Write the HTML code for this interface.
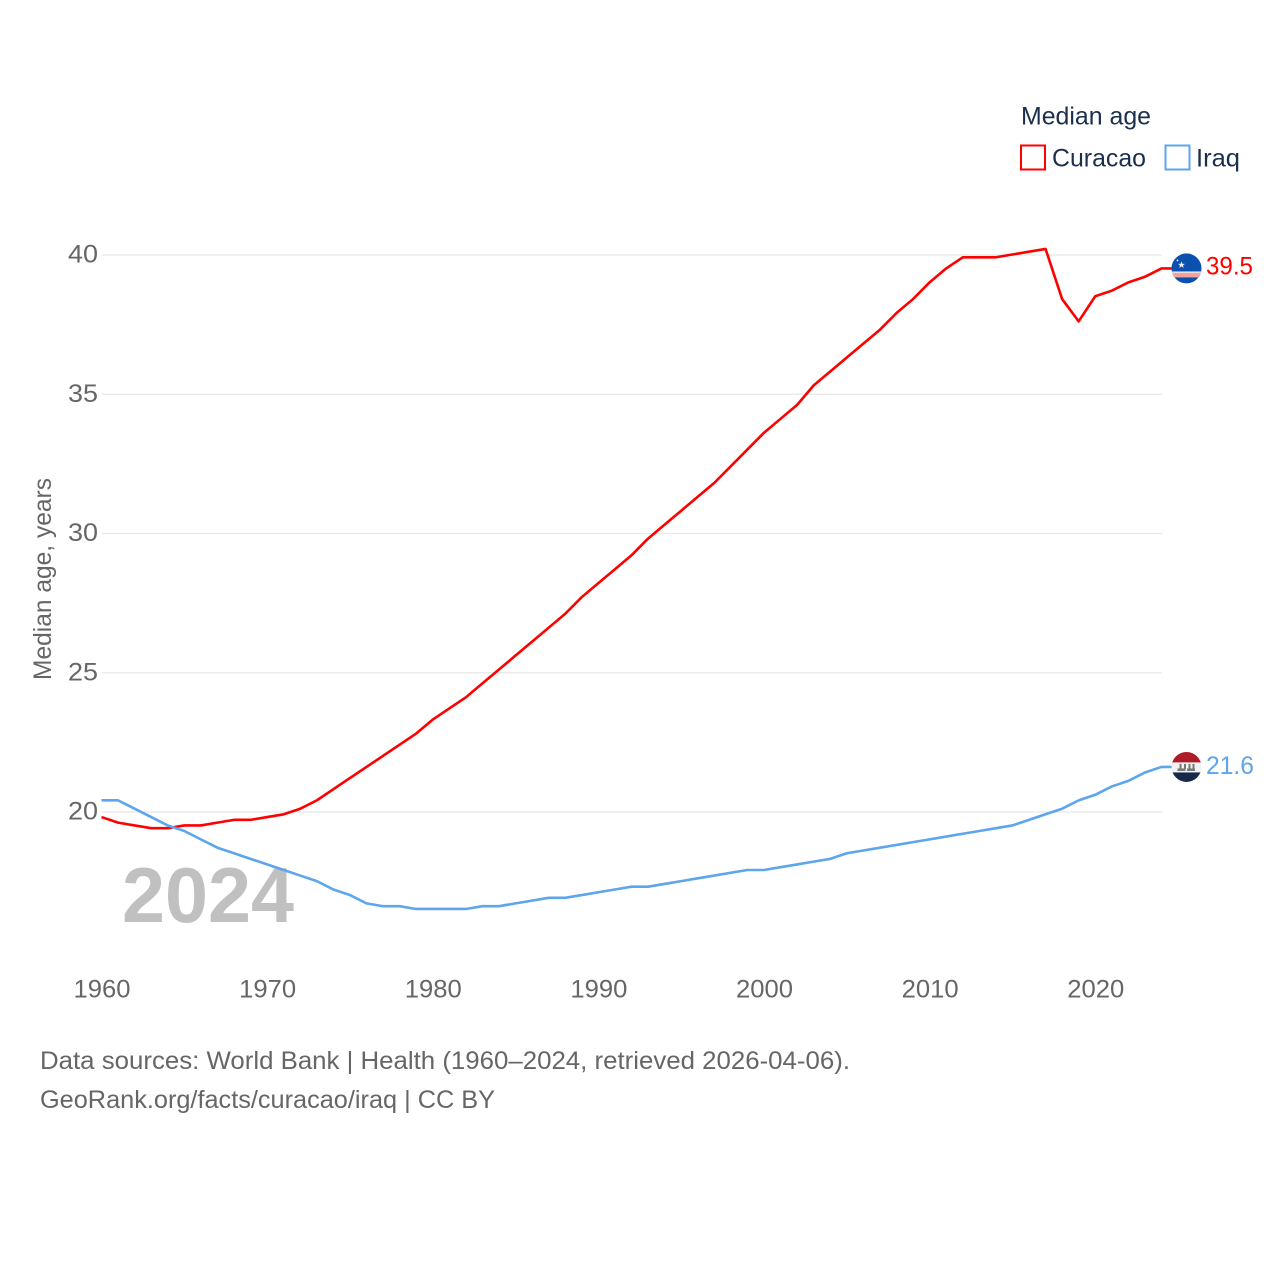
<!DOCTYPE html>
<html lang="en">
<head>
<meta charset="utf-8">
<title>Median age: Curacao and Iraq</title>
<style>
html,body{margin:0;padding:0;background:#fff;width:1280px;height:1280px;overflow:hidden}
svg{display:block}
text{font-family:"Liberation Sans",sans-serif}
</style>
</head>
<body>
<svg id="chart" width="1280" height="1280" viewBox="0 0 1280 1280" xmlns="http://www.w3.org/2000/svg">
  <defs>
    <clipPath id="flag-clip"><circle cx="0" cy="0" r="15"></circle></clipPath>
  </defs>
  <g id="grid"></g>
  <g id="y-ticks"></g>
  <g id="x-ticks"></g>
  <text transform="translate(51,680) rotate(-90)" font-size="25" fill="#666" textLength="202" lengthAdjust="spacingAndGlyphs">Median age, years</text>
  <text x="122" y="922" font-size="78" font-weight="700" fill="#c0c0c0" textLength="172" lengthAdjust="spacingAndGlyphs">2024</text>
  <g id="series"></g>
  <g id="end-marks"></g>
  <g>
    <text x="1021" y="124.500" font-size="25" fill="#1b2f4d" textLength="130" lengthAdjust="spacingAndGlyphs">Median age</text>
    <rect x="1021" y="145.500" width="24" height="24" fill="#fff" stroke="#ff0000" stroke-width="2"></rect>
    <text x="1052" y="166.500" font-size="25" fill="#1b2f4d" textLength="94" lengthAdjust="spacingAndGlyphs">Curacao</text>
    <rect x="1165.500" y="145.500" width="24" height="24" fill="#fff" stroke="#5da5ec" stroke-width="2"></rect>
    <text x="1196" y="166.500" font-size="25" fill="#1b2f4d" textLength="44" lengthAdjust="spacingAndGlyphs">Iraq</text>
  </g>
  <text x="40" y="1069" font-size="25" fill="#666" textLength="810" lengthAdjust="spacingAndGlyphs">Data sources: World Bank | Health (1960–2024, retrieved 2026-04-06).</text>
  <text x="40" y="1108" font-size="25" fill="#666" textLength="455" lengthAdjust="spacingAndGlyphs">GeoRank.org/facts/curacao/iraq | CC BY</text>
</svg>
<script>
const startYear = 1960;
const xTickLabels = [1960, 1970, 1980, 1990, 2000, 2010, 2020];
const yTickLabels = [20, 25, 30, 35, 40];
const curacaoValues = [
  19.8,19.6,19.5,19.4,19.4,19.5,19.5,19.6,19.7,19.7,
  19.8,19.9,20.1,20.4,20.8,21.2,21.6,22.0,22.4,22.8,
  23.3,23.7,24.1,24.6,25.1,25.6,26.1,26.6,27.1,27.7,
  28.2,28.7,29.2,29.8,30.3,30.8,31.3,31.8,32.4,33.0,
  33.6,34.1,34.6,35.3,35.8,36.3,36.8,37.3,37.9,38.4,
  39.0,39.5,39.9,39.9,39.9,40.0,40.1,40.2,38.4,37.6,
  38.5,38.7,39.0,39.2,39.5
];
const iraqValues = [
  20.4,20.4,20.1,19.8,19.5,19.3,19.0,18.7,18.5,18.3,
  18.1,17.9,17.7,17.5,17.2,17.0,16.7,16.6,16.6,16.5,
  16.5,16.5,16.5,16.6,16.6,16.7,16.8,16.9,16.9,17.0,
  17.1,17.2,17.3,17.3,17.4,17.5,17.6,17.7,17.8,17.9,
  17.9,18.0,18.1,18.2,18.3,18.5,18.6,18.7,18.8,18.9,
  19.0,19.1,19.2,19.3,19.4,19.5,19.7,19.9,20.1,20.4,
  20.6,20.9,21.1,21.4,21.6
];

const NS = 'http://www.w3.org/2000/svg';
const xAxis = year => 101.500 + (year - 1960) * (1060 / 64);
const yAxis = value => 811.500 - (value - 20) * (557 / 20);
const gridX = year => 102 + (year - 1960) * (1060 / 64);

function make(tag, attrs, parent) {
  const el = document.createElementNS(NS, tag);
  for (const k in attrs) el.setAttribute(k, attrs[k]);
  parent.appendChild(el);
  return el;
}

const grid = document.getElementById('grid');
const yTicks = document.getElementById('y-ticks');
yTickLabels.forEach(v => {
  const line = make('line', {x1: 102, x2: 1162, y1: yAxis(v) + 0.500, y2: yAxis(v) + 0.500, stroke: '#e8e8e8', 'stroke-width': 1.2}, grid);
  
  
  const t = make('text', {x: 68, y: yAxis(v) + 8, 'font-size': 25, fill: '#666', textLength: 30, lengthAdjust: 'spacingAndGlyphs'}, yTicks);
  
  
  t.textContent = v;
});

const xTicks = document.getElementById('x-ticks');
xTickLabels.forEach(year => {
  const t = make('text', {x: gridX(year), y: 997.500, 'font-size': 25, fill: '#666', 'text-anchor': 'middle', textLength: 57, lengthAdjust: 'spacingAndGlyphs'}, xTicks);
  
  
  t.textContent = year;
});

function linePoints(values) {
  const pts = values.map((v, i) => xAxis(startYear + i).toFixed(2) + ',' + yAxis(v).toFixed(2));
  pts.push('1172,' + yAxis(values[values.length - 1]).toFixed(2));
  return pts.join(' ');
}

const seriesGroup = document.getElementById('series');
const curacaoLine = make('polyline', {points: linePoints(curacaoValues), fill: 'none', stroke: '#ff0000', 'stroke-width': 2.6, 'stroke-linejoin': 'round'}, seriesGroup);


const iraqLine = make('polyline', {points: linePoints(iraqValues), fill: 'none', stroke: '#5da5ec', 'stroke-width': 2.6, 'stroke-linejoin': 'round'}, seriesGroup);



const endMarks = document.getElementById('end-marks');

function band(parent, y, h, fill) {
  make('rect', {x: -15, y: y, width: 30, height: h, fill: fill}, parent);
}

// Curacao flag
const curY = yAxis(curacaoValues[curacaoValues.length - 1]);
const curFlag = make('g', {transform: 'translate(1186.500,' + curY + ')', 'clip-path': 'url(#flag-clip)'}, endMarks);


band(curFlag, -15, 30, '#0b50ae');
band(curFlag, 3, 2, '#e9e3e8');
band(curFlag, 4.500, 4.500, '#f4a39a');
make('polygon', {points: '-5,-7 -4,-4.500 -1.500,-4.500 -3.500,-3 -2.800,-0.500 -5,-2 -7.200,-0.500 -6.500,-3 -8.500,-4.500 -6,-4.500', fill: '#e8eef8'}, curFlag);
make('circle', {cx: -9, cy: -8, r: 0.9, fill: '#fff'}, curFlag);

const curLabel = make('text', {x: 1206, y: curY + 6, 'font-size': 25, fill: '#ff0000', textLength: 47, lengthAdjust: 'spacingAndGlyphs'}, endMarks);


curLabel.textContent = curacaoValues[curacaoValues.length - 1].toFixed(1);

// Iraq flag
const iraqY = yAxis(iraqValues[iraqValues.length - 1]);
const iraqFlag = make('g', {transform: 'translate(1186.500,' + iraqY + ')', 'clip-path': 'url(#flag-clip)'}, endMarks);


band(iraqFlag, -15, 10.500, '#ae1c28');
band(iraqFlag, -4.500, 10, '#f2f2f2');
band(iraqFlag, 5.500, 10, '#15294a');
[[-9, 1.500, 8, 2.500], [0.500, 1.500, 8, 2.500], [-7, -3, 2, 5], [-2.500, -3, 2, 5], [2, -3, 2, 5], [6, -3, 2, 5]].forEach(r => {
  make('rect', {x: r[0], y: r[1], width: r[2], height: r[3], fill: '#777'}, iraqFlag);
});

const iraqLabel = make('text', {x: 1206, y: iraqY + 7, 'font-size': 25, fill: '#5da5ec', textLength: 48, lengthAdjust: 'spacingAndGlyphs'}, endMarks);


iraqLabel.textContent = iraqValues[iraqValues.length - 1].toFixed(1);
</script>
</body>
</html>
